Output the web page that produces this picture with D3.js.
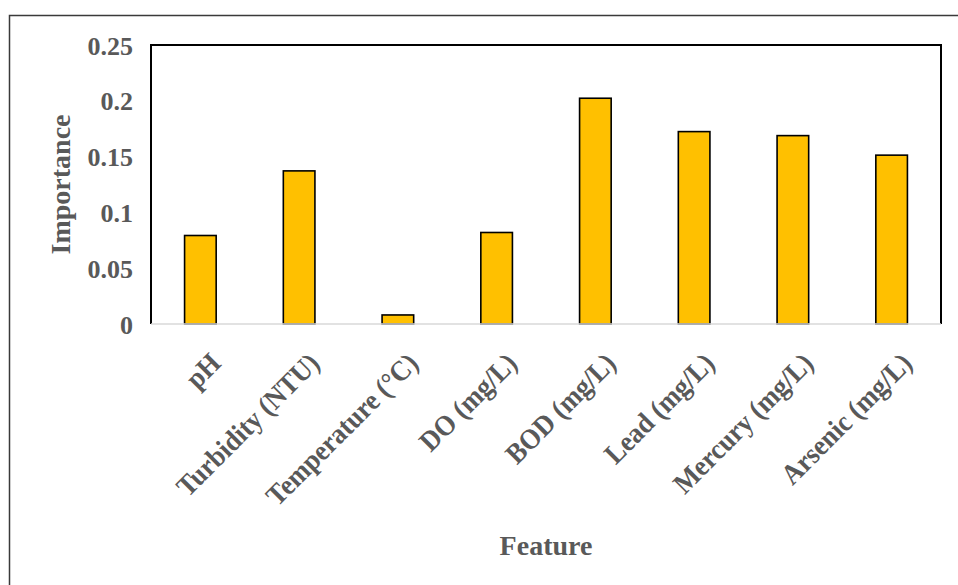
<!DOCTYPE html>
<html>
<head>
<meta charset="utf-8">
<script src="https://cdn.jsdelivr.net/npm/d3@7"></script>
<style>
  html, body { margin: 0; padding: 0; background: #fff; }
  svg { display: block; }
</style>
</head>
<body>
<svg id="chart" width="958" height="585"></svg>
<script>
const categories = ["pH", "Turbidity (NTU)", "Temperature (°C)", "DO (mg/L)", "BOD (mg/L)", "Lead (mg/L)", "Mercury (mg/L)", "Arsenic (mg/L)"];
const importance = [0.0793, 0.1372, 0.0081, 0.0820, 0.2023, 0.1724, 0.1688, 0.1513];
const yTicks = [0, 0.05, 0.1, 0.15, 0.2, 0.25];
const yTickLabels = ["0", "0.05", "0.1", "0.15", "0.2", "0.25"];
const xTitle = "Feature";
const yTitle = "Importance";

const svg = d3.select("#chart");
const plot = { left: 151, top: 45, right: 941, bottom: 324 };
const textColor = "#595959";
const font = "'Liberation Serif', 'Times New Roman', serif";

// outer frame
svg.append("rect")
  .attr("x", 9.5).attr("y", 15.5)
  .attr("width", 1000).attr("height", 1000)
  .attr("fill", "none").attr("stroke", "#3a3a3a").attr("stroke-width", 1.5);

const x = d3.scaleBand().domain(categories).range([plot.left, plot.right]).paddingInner(0.68).paddingOuter(0.34);
const y = d3.scaleLinear().domain([0, 0.25]).range([plot.bottom, plot.top]);

// plot border (top, left, right)
svg.append("path")
  .attr("d", `M${plot.left},${plot.bottom} V${plot.top} H${plot.right} V${plot.bottom}`)
  .attr("fill", "none").attr("stroke", "#000").attr("stroke-width", 2);

// bars
svg.append("g").selectAll("rect").data(categories).join("rect")
  .attr("x", d => x(d))
  .attr("y", (d, i) => y(importance[i]))
  .attr("width", x.bandwidth())
  .attr("height", (d, i) => y(0) - y(importance[i]))
  .attr("fill", "#FFC000")
  .attr("stroke", "#000")
  .attr("stroke-width", 1.6);

// zero line
svg.append("line")
  .attr("x1", plot.left).attr("x2", plot.right)
  .attr("y1", y(0)).attr("y2", y(0))
  .attr("stroke", "#d9d9d9").attr("stroke-width", 1.5);

// y axis tick labels
const yAxis = d3.axisLeft(y).tickValues(yTicks).tickFormat((d, i) => yTickLabels[i]).tickSize(0).tickPadding(18);
const gy = svg.append("g").attr("transform", `translate(${plot.left},0)`).call(yAxis);
gy.select(".domain").remove();
gy.selectAll("text")
  .attr("fill", textColor)
  .style("font-family", font)
  .style("font-weight", "bold")
  .style("font-size", "26px")
  .attr("dy", "0.35em");

// x axis labels
const xAxis = d3.axisBottom(x).tickSize(0).tickPadding(0);
const gx = svg.append("g").attr("transform", `translate(0,${plot.bottom})`).call(xAxis);
gx.select(".domain").remove();
gx.selectAll("text")
  .attr("fill", textColor)
  .style("font-family", font)
  .style("font-weight", "bold")
  .style("font-size", "26.5px")
  .attr("text-anchor", "end")
  .attr("dy", 0)
  .attr("y", 0)
  .attr("transform", "translate(22,41) rotate(-45) scale(1,1.08)");

// axis titles
svg.append("text")
  .attr("x", (plot.left + plot.right) / 2)
  .attr("y", 555)
  .attr("text-anchor", "middle")
  .attr("fill", textColor)
  .style("font-family", font)
  .style("font-weight", "bold")
  .style("font-size", "28px")
  .text(xTitle);

svg.append("text")
  .attr("transform", `translate(70,${(plot.top + plot.bottom) / 2}) rotate(-90)`)
  .attr("text-anchor", "middle")
  .attr("fill", textColor)
  .style("font-family", font)
  .style("font-weight", "bold")
  .style("font-size", "28px")
  .text(yTitle);
</script>
</body>
</html>
